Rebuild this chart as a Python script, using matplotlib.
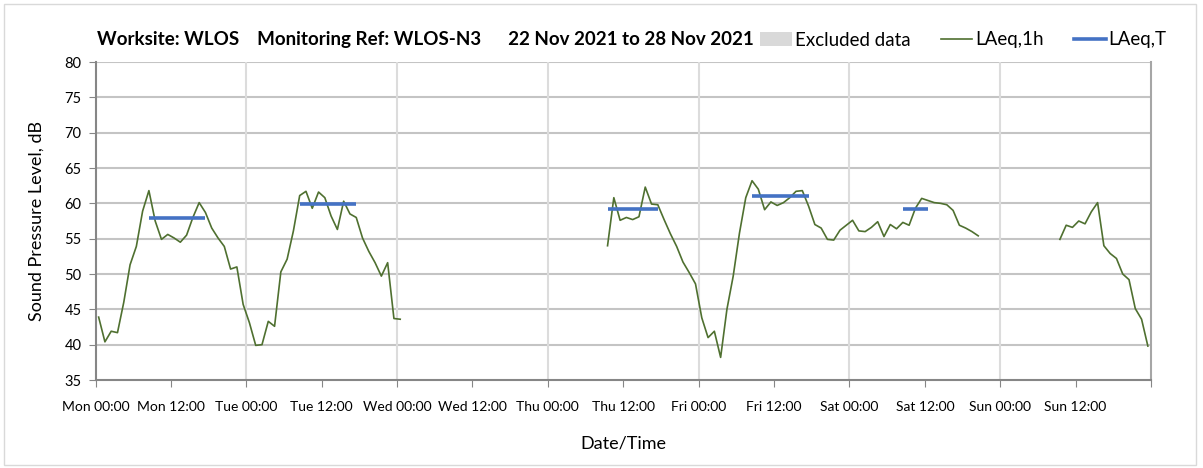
import numpy as np
import matplotlib.pyplot as plt
from matplotlib.patches import Patch, Rectangle
from matplotlib.lines import Line2D

plt.rcParams['font.family'] = 'Lato'

# LAeq,1h in dB, one list per unbroken run of valid hours (start = hours after Mon 00:00)
run1_start = 0
run1_laeq = [43.9, 40.4, 41.9, 41.7, 46.0, 51.3, 53.9, 58.9, 61.8, 57.5, 54.9, 55.6,
             55.1, 54.5, 55.5, 58.0, 60.1, 58.7, 56.5, 55.1, 53.9, 50.7, 51.0, 45.7,
             43.1, 39.9, 40.0, 43.3, 42.6, 50.3, 52.1, 56.1, 61.1, 61.7, 59.3, 61.6,
             60.8, 58.2, 56.3, 60.3, 58.5, 58.0, 55.1, 53.2, 51.6, 49.7, 51.6, 43.7, 43.6]

run2_start = 81
run2_laeq = [54.0, 60.8, 57.6, 58.0, 57.7, 58.1, 62.3, 59.9, 59.8, 57.7, 55.7, 53.9,
             51.7, 50.2, 48.6, 43.8, 41.0, 41.9, 38.2, 45.0, 49.7, 55.8, 60.8, 63.2,
             62.0, 59.1, 60.2, 59.7, 60.1, 60.8, 61.7, 61.8, 59.6, 57.0, 56.5, 54.9,
             54.8, 56.2, 56.9, 57.6, 56.1, 56.0, 56.6, 57.4, 55.3, 57.0, 56.4, 57.3,
             56.9, 59.3, 60.7, 60.4, 60.1, 60.0, 59.8, 59.0, 56.9, 56.5, 56.0, 55.4]

run3_start = 153
run3_laeq = [54.9, 56.9, 56.6, 57.5, 57.1, 58.8, 60.1, 54.0, 52.9, 52.2, 50.0, 49.2,
             45.1, 43.6, 39.8]

# LAeq,T over each daytime period (first and last hour)
laeqT_first = [8, 32, 81, 104, 128]
laeqT_last = [17, 41, 89, 113, 132]
laeqT_value = [57.9, 59.9, 59.2, 61.0, 59.2]

day_names = ['Mon', 'Tue', 'Wed', 'Thu', 'Fri', 'Sat', 'Sun']
tick_labels = [f'{d} {t}' for d in day_names for t in ('00:00', '12:00')]

green = '#4f7030'
blue = '#4472c4'

fig = plt.figure(figsize=(12.03, 4.68), dpi=100)
ax = fig.add_axes([95.5 / 1203, 88 / 468, (1151 - 95.5) / 1203, 318 / 468])

# hourly values are plotted at the middle of their hour
for start, vals in [(run1_start, run1_laeq), (run2_start, run2_laeq), (run3_start, run3_laeq)]:
    hrs = start + np.arange(len(vals)) + 0.5
    ax.plot(hrs, vals, color=green, lw=1.2, zorder=3)

for a, b, v in zip(laeqT_first, laeqT_last, laeqT_value):
    ax.plot([a + 0.5, b + 0.5], [v, v], color=blue, lw=2.6, solid_capstyle='butt', zorder=4)

ax.set_xlim(0, 168)
ax.set_ylim(35, 80)
ax.set_xticks(np.arange(0, 169, 12))
ax.set_xticklabels(tick_labels + [''], fontsize=10)
ax.set_yticks(np.arange(35, 81, 5))
ax.tick_params(axis='y', labelsize=10.5, direction='out', length=5, color='#868686', pad=5)
ax.tick_params(axis='x', direction='out', length=5, color='#868686', pad=10)

for y in range(40, 81, 5):
    ax.axhline(y, color='#c4c4c4', lw=1.5, zorder=1)
for x in range(24, 168, 24):
    ax.axvline(x, color='#dcdcdc', lw=1.5, zorder=1)

for side in ('left', 'bottom'):
    ax.spines[side].set_color('#868686')
    ax.spines[side].set_linewidth(1.5)
ax.spines['top'].set_visible(False)
ax.spines['right'].set_color('#a6a6a6')
ax.spines['right'].set_linewidth(1.5)

ax.set_ylabel('Sound Pressure Level, dB', fontsize=13, labelpad=14)
ax.set_xlabel('Date/Time', fontsize=13, labelpad=16)

fig.text(97 / 1203, 1 - 45 / 468,
         'Worksite: WLOS    Monitoring Ref: WLOS-N3      22 Nov 2021 to 28 Nov 2021',
         fontsize=13.5, fontweight='bold', va='baseline')

handles = [Patch(facecolor='#d9d9d9', edgecolor='none'),
           Line2D([], [], color=green, lw=1.2),
           Line2D([], [], color=blue, lw=2.6)]
fig.legend(handles, ['Excluded data', 'LAeq,1h', 'LAeq,T'], ncol=3, frameon=False,
           loc='center right', bbox_to_anchor=(1174 / 1203, 1 - 40 / 468),
           fontsize=13.5, handlelength=1.7, handletextpad=0.15, columnspacing=1.6,
           borderaxespad=0)

fig.patches.append(Rectangle((4 / 1203, 3 / 468), 1192 / 1203, 461 / 468,
                             transform=fig.transFigure, fill=False,
                             edgecolor='#d9d9d9', lw=1))

fig.savefig('out.png', dpi=100)
